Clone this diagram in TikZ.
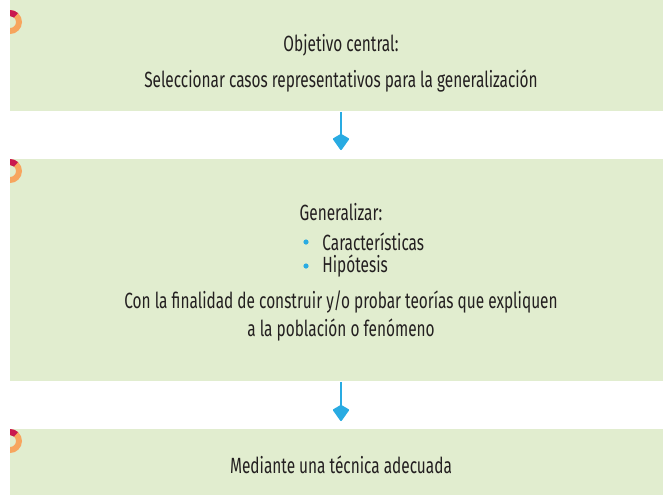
\documentclass[tikz,border=0pt]{standalone}
\usepackage{fontspec}
\setmainfont[FakeStretch=0.7]{Fira Sans}
\usetikzlibrary{arrows.meta}
\usetikzlibrary{positioning}

\definecolor{boxgreen}{HTML}{E1EDCF}
\definecolor{flowblue}{HTML}{29ABE2}
\definecolor{ringorange}{HTML}{F7A55E}
\definecolor{ringred}{HTML}{C9184F}
\definecolor{txtgray}{HTML}{231F20}

\tikzset{
  box/.style={fill=boxgreen, draw=none, rectangle, inner sep=0pt, anchor=north west},
  txt/.style={text=txtgray, inner sep=0pt, font=\fontsize{11}{13}\selectfont},
  flow/.style={draw=flowblue, line width=1pt, -{Kite[length=8.5pt,width=8.5pt,inset=2.5pt,round]}},
  dot/.style={circle, fill=flowblue, inner sep=0pt, minimum size=2.6pt}
}

% half ring at the left edge of a box (y runs downwards)
\newcommand{\ringmark}[1]{%
  \begin{scope}
    \clip (10,#1-14) rectangle (24,#1+14);
    \fill[ringorange, even odd rule] (10,#1) circle[radius=12] (10,#1) circle[radius=6];
    \fill[ringred] (10,#1) ++(270:12) arc[start angle=270,end angle=312,radius=12]
      -- ++(132:6) arc[start angle=312,end angle=270,radius=6] -- cycle;
  \end{scope}}

\begin{document}
\begin{tikzpicture}[x=0.5pt,y=-0.5pt]
\useasboundingbox (0,0) rectangle (663,495);

% boxes
\node[box, minimum width=326.5pt, minimum height=55.5pt] (obj) at (10,0) {};
\node[box, minimum width=326.5pt, minimum height=111pt] (gen) at (10,159) {};
\node[box, minimum width=326.5pt, minimum height=33pt] (tec) at (10,429) {};

\ringmark{22}
\ringmark{171}
\ringmark{441}

% texts
\node[txt] (objtitle) at (341,45) {Objetivo central:};
\node[txt] (objtext) at (341,81) {Seleccionar casos representativos para la generalización};

\node[txt] (gentitle) at (341,212) {Generalizar:};
\node[txt, anchor=west] (car) at (322,242) {Características};
\node[txt, anchor=west] (hip) at (322,266) {Hipótesis};
\node[dot] (cardot) at (306,242) {};
\node[dot] (hipdot) at (306,266) {};
\node[txt, align=center] (gentext) at (341,316) {Con la finalidad de construir y/o probar teorías que expliquen\\[1pt] a la población o fenómeno};

\node[txt] (tectext) at (341,465) {Mediante una técnica adecuada};

% arrows
\coordinate (tipone) at (341,150);
\coordinate (tiptwo) at (341,421);
\draw[flow] (obj.south -| tipone) -- (tipone);
\draw[flow] (gen.south -| tiptwo) -- (tiptwo);

\end{tikzpicture}
\end{document}
